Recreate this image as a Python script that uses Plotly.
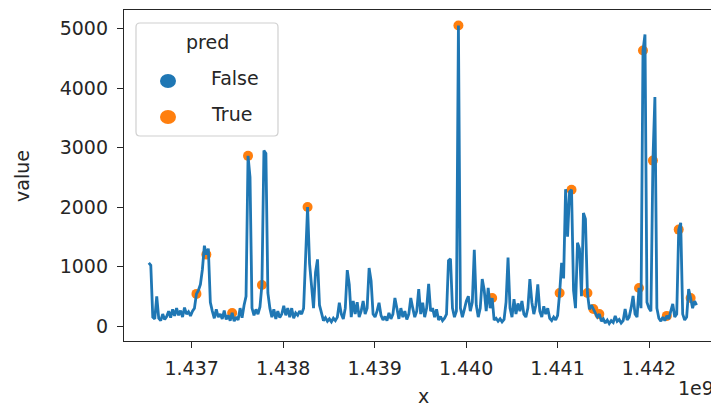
import plotly.graph_objects as go

# ---- data ----
T0 = 1436531000          # first timestamp (s)
STEP = 21700             # sampling step (s)

values = [
    1060, 1020, 150, 120, 500, 130, 90, 200, 110, 160,        # 0-9
    250, 140, 280, 170, 300, 180, 260, 150, 310, 200,         # 10-19
    240, 170, 250, 300, 540, 600, 700, 950, 1350, 1200,       # 20-29
    1300, 400, 250, 130, 280, 150, 200, 120, 260, 110,        # 30-39
    180, 90, 220, 80, 150, 100, 300, 140, 350, 500,           # 40-49
    2860, 2500, 300, 180, 280, 200, 320, 690, 2950, 2900,     # 50-59
    555, 300, 150, 280, 120, 250, 140, 200, 340, 180,         # 60-69
    300, 150, 300, 130, 220, 180, 250, 200, 300, 1200,        # 70-79
    2000, 1050, 600, 300, 900, 1120, 350, 200, 90, 140,       # 80-89
    80, 120, 70, 130, 90, 150, 390, 200, 120, 300,            # 90-99
    940, 700, 150, 420, 200, 400, 150, 250, 420, 200,         # 100-109
    300, 975, 760, 200, 150, 250, 390, 180, 100, 160,         # 110-119
    90, 220, 120, 200, 470, 300, 120, 300, 150, 250,          # 120-129
    110, 200, 470, 300, 150, 250, 620, 200, 390, 150,         # 130-139
    300, 710, 250, 300, 150, 280, 100, 160, 90, 130,          # 140-149
    200, 1100, 1130, 300, 150, 250, 5050, 300, 150, 280,      # 150-159
    420, 500, 250, 400, 1280, 350, 150, 300, 790, 600,        # 160-169
    250, 640, 300, 470, 100, 130, 80, 120, 70, 110,           # 170-179
    400, 1150, 300, 150, 450, 200, 380, 250, 420, 200,        # 180-189
    150, 300, 790, 400, 200, 350, 700, 250, 150, 330,         # 190-199
    200, 300, 130, 90, 150, 100, 180, 555, 1060, 800,         # 200-209
    2300, 1500, 2250, 2290, 600, 300, 1400, 1300, 500, 1900,  # 210-219
    1800, 555, 280, 350, 285, 200, 150, 200, 80, 120,         # 220-229
    50, 100, 40, 90, 60, 170, 80, 110, 50, 90,                # 230-239
    285, 100, 150, 300, 505, 200, 150, 640, 300, 4630,        # 240-249
    4900, 400, 300, 250, 2780, 3850, 300, 130, 80, 150,       # 250-259
    90, 170, 120, 250, 370, 150, 200, 1620, 1735, 200,        # 260-269
    100, 150, 620, 470, 300, 420, 350,                        # 270-276
]

# indices flagged pred == True
true_idx = [24, 29, 42, 50, 57, 80, 156, 173, 207, 213, 221, 224, 227,
            247, 249, 254, 261, 267, 273]

x_tick_vals = [1.437e9, 1.438e9, 1.439e9, 1.440e9, 1.441e9, 1.442e9]
x_tick_text = ["1.437", "1.438", "1.439", "1.440", "1.441", "1.442"]
y_tick_vals = [0, 1000, 2000, 3000, 4000, 5000]
y_tick_text = ["0", "1000", "2000", "3000", "4000", "5000"]

# ---- derived ----
x = [T0 + i * STEP for i in range(len(values))]
true_set = set(true_idx)
pred = [i in true_set for i in range(len(values))]
x_true = [xx for xx, p in zip(x, pred) if p]
v_true = [vv for vv, p in zip(values, pred) if p]

BLUE = "#1f77b4"
ORANGE = "#ff7f0e"
TXT = "#262626"
FONT = "DejaVu Sans"
FS = 19

fig = go.Figure()
fig.add_trace(go.Scatter(x=x_true, y=v_true, mode="markers",
                         marker=dict(color=ORANGE, size=10, line=dict(width=0)),
                         showlegend=False, hoverinfo="skip"))
fig.add_trace(go.Scatter(x=x, y=values, mode="lines",
                         line=dict(color=BLUE, width=2.8),
                         showlegend=False))

# ---- custom legend (matplotlib style) ----
W = 588.0
H = 331.0
def px_x(p):
    return p / W
def px_y(p):
    return p / H

lx0, lx1, ly0, ly1 = px_x(136 - 124), px_x(278 - 124), px_y(341 - 136), px_y(341 - 23)
r = 4
rx, ry = px_x(r), px_y(r)
path = (f"M {lx0+rx},{ly0} L {lx1-rx},{ly0} Q {lx1},{ly0} {lx1},{ly0+ry} "
        f"L {lx1},{ly1-ry} Q {lx1},{ly1} {lx1-rx},{ly1} "
        f"L {lx0+rx},{ly1} Q {lx0},{ly1} {lx0},{ly1-ry} "
        f"L {lx0},{ly0+ry} Q {lx0},{ly0} {lx0+rx},{ly0} Z")
shapes = [dict(type="path", xref="paper", yref="paper", path=path,
               fillcolor="rgba(255,255,255,0.8)", line=dict(color="#d0d0d0", width=1.2))]

legend_items = [("False", BLUE, 81), ("True", ORANGE, 117)]
annotations = [dict(text="pred", xref="paper", yref="paper", x=px_x(207 - 124), y=px_y(341 - 42),
                    xanchor="center", yanchor="middle", showarrow=False,
                    font=dict(family=FONT, size=FS, color=TXT))]
for label, col, ypx in legend_items:
    shapes.append(dict(type="circle", xref="paper", yref="paper",
                       xsizemode="pixel", ysizemode="pixel",
                       xanchor=px_x(168 - 124), yanchor=px_y(341 - ypx),
                       x0=-8, x1=8, y0=-7, y1=7,
                       fillcolor=col, line=dict(width=0)))
    annotations.append(dict(text=label, xref="paper", yref="paper",
                            x=px_x(209 - 124), y=px_y(341 - ypx + 3),
                            xanchor="left", yanchor="middle", showarrow=False,
                            font=dict(family=FONT, size=FS, color=TXT)))

# axis titles and offset text
annotations += [
    dict(text="x", xref="paper", yref="paper", x=px_x(423 - 124), y=px_y(341 - 396),
         xanchor="center", yanchor="middle", showarrow=False,
         font=dict(family=FONT, size=FS, color=TXT)),
    dict(text="value", xref="paper", yref="paper", x=px_x(22 - 124), y=px_y(341 - 176),
         xanchor="center", yanchor="middle", showarrow=False, textangle=-90,
         font=dict(family=FONT, size=FS, color=TXT)),
    dict(text="1e9", xref="paper", yref="paper", x=px_x(716 - 124), y=px_y(341 - 388),
         xanchor="right", yanchor="middle", showarrow=False,
         font=dict(family=FONT, size=FS, color=TXT)),
]

axis_common = dict(showgrid=False, zeroline=False, showline=True, mirror=True,
                   automargin=False,
                   linecolor=TXT, linewidth=1.3, ticks="outside", tickcolor=TXT,
                   tickwidth=1.3, tickfont=dict(family=FONT, size=FS, color=TXT))

# the page body has an 8px margin, so the figure is drawn 8px smaller and
# margins are shifted so the plot lands where the reference has it
fig.update_layout(
    width=711, height=399,
    margin=dict(l=116, r=7, t=2, b=66, autoexpand=False),
    paper_bgcolor="white", plot_bgcolor="white",
    showlegend=False,
    shapes=shapes, annotations=annotations,
    xaxis=dict(range=[1436259800, 1442688800], tickmode="array",
               tickvals=x_tick_vals, ticktext=x_tick_text, ticklen=6,
               ticklabelstandoff=4, **axis_common),
    yaxis=dict(range=[-252, 5311], tickmode="array",
               tickvals=y_tick_vals, ticktext=y_tick_text, ticklen=6,
               ticklabelstandoff=5, **axis_common),
)

fig.write_html("out.html")
